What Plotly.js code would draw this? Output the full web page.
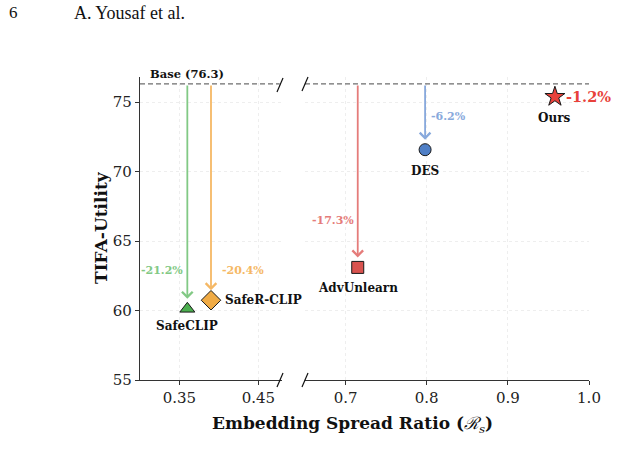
<!DOCTYPE html>
<html>
<head>
<meta charset="utf-8">
<script src="https://cdn.plot.ly/plotly-3.0.1.min.js"></script>
<style>
  html, body { margin: 0; padding: 0; background: #ffffff; }
  #chart { width: 619px; height: 460px; }
</style>
</head>
<body>
<div id="chart"></div>
<script>
// Utility vs. embedding spread for each unlearning method
const methods   = ['SafeCLIP', 'SafeR-CLIP', 'AdvUnlearn', 'DES', 'Ours'];
const spread    = [0.36, 0.39, 0.715, 0.798, 0.958];
const tifa      = [60.12, 60.74, 63.10, 71.57, 75.38];
const dropLabel = ['-21.2%', '-20.4%', '-17.3%', '-6.2%', '-1.2%'];
const baseValue = 76.3;

const leftTicks  = [0.35, 0.45];
const rightTicks = [0.7, 0.8, 0.9, 1.0];
const rightTickText = ['0.7', '0.8', '0.9', '1.0'];
const yTicks = [55, 60, 65, 70, 75];

// styling per method
const style = [
  {xa: 'x',  symbol: 'triangle-up', size: 13, color: '#4caf50', arrow: '#82c985', labelPos: 'below', dropSide: 'left',  dropY: 62.85, dropSize: 11},
  {xa: 'x',  symbol: 'diamond',     size: 15, color: '#f0ab45', arrow: '#f5b865', labelPos: 'right', dropSide: 'right', dropY: 62.85, dropSize: 11},
  {xa: 'x2', symbol: 'square',      size: 12, color: '#d9534f', arrow: '#e57c7a', labelPos: 'below', dropSide: 'left',  dropY: 66.45, dropSize: 11},
  {xa: 'x2', symbol: 'circle',      size: 12, color: '#4f7fc6', arrow: '#88a9dc', labelPos: 'below', dropSide: 'right', dropY: 73.95, dropSize: 11},
  {xa: 'x2', symbol: 'star',        size: 15, color: '#e8413a', arrow: null,      labelPos: 'below', dropSide: 'right', dropY: null,  dropSize: 14.5}
];

const serif = 'DejaVu Serif, serif';

const traces = methods.map((m, i) => ({
  type: 'scatter',
  mode: 'markers',
  name: m,
  x: [spread[i]],
  y: [tifa[i]],
  xaxis: style[i].xa,
  yaxis: 'y',
  marker: {
    symbol: style[i].symbol,
    size: style[i].size,
    color: style[i].color,
    line: {color: '#1a1a1a', width: 1}
  },
  showlegend: false,
  hoverinfo: 'x+y+name'
}));

const annotations = [];
const arrowGap = 0.72;   // how far above the marker the arrow stops (data units)

methods.forEach((m, i) => {
  const s = style[i];
  // method name
  if (s.labelPos === 'below') {
    annotations.push({
      xref: s.xa, yref: 'y', x: spread[i], y: tifa[i],
      text: '<b>' + m + '</b>', showarrow: false,
      xanchor: 'center', yanchor: 'middle', yshift: i === 0 ? -17 : -21,
      font: {family: serif, size: 12, color: '#111'}
    });
  } else {
    annotations.push({
      xref: s.xa, yref: 'y', x: spread[i], y: tifa[i],
      text: '<b>' + m + '</b>', showarrow: false,
      xanchor: 'left', yanchor: 'middle', xshift: 12,
      font: {family: serif, size: 12, color: '#111'}
    });
  }
  // drop arrow from the base level
  if (s.arrow) {
    annotations.push({
      xref: s.xa, yref: 'y', axref: s.xa, ayref: 'y',
      x: spread[i], y: tifa[i] + arrowGap,
      ax: spread[i], ay: baseValue,
      text: '', showarrow: true,
      arrowhead: 4, arrowsize: 1.15, arrowwidth: 1.8, arrowcolor: s.arrow,
      standoff: 0, startstandoff: 0
    });
  }
  // percentage drop
  const dy = s.dropY === null ? tifa[i] : s.dropY;
  annotations.push({
    xref: s.xa, yref: 'y', x: spread[i], y: dy,
    text: '<b>' + dropLabel[i] + '</b>', showarrow: false,
    xanchor: s.dropSide === 'left' ? 'right' : 'left',
    yanchor: 'middle',
    xshift: s.dropSide === 'left' ? -2 : (s.dropY === null ? 9 : (i === 1 ? 9 : 4)),
    font: {family: serif, size: s.dropSize, color: s.arrow || s.color}
  });
});

// base label
annotations.push({
  xref: 'paper', yref: 'y', x: 148 / 619, y: baseValue,
  text: '<b>Base (76.3)</b>', showarrow: false,
  xanchor: 'left', yanchor: 'bottom', yshift: 1,
  font: {family: serif, size: 11.5, color: '#111'}
});

// axis titles
annotations.push({
  xref: 'paper', yref: 'paper', x: 352 / 619, y: 1 - 424 / 460,
  text: '<b>Embedding Spread Ratio (</b><i>ℛ</i><sub><i>s</i></sub><b>)</b>', showarrow: false,
  xanchor: 'center', yanchor: 'middle',
  font: {family: serif, size: 17, color: '#111'}
});
annotations.push({
  xref: 'paper', yref: 'paper', x: 101 / 619, y: 1 - 228 / 460,
  text: '<b>TIFA-Utility</b>', showarrow: false, textangle: -90,
  xanchor: 'center', yanchor: 'middle',
  font: {family: serif, size: 17, color: '#111'}
});

// running page header
annotations.push({
  xref: 'paper', yref: 'paper', x: 7 / 619, y: 1 - 13 / 460,
  text: '6', showarrow: false, xanchor: 'left', yanchor: 'middle',
  font: {family: 'Liberation Serif, serif', size: 17, color: '#111'}
});
annotations.push({
  xref: 'paper', yref: 'paper', x: 72 / 619, y: 1 - 13 / 460,
  text: 'A. Yousaf et al.', showarrow: false, xanchor: 'left', yanchor: 'middle',
  font: {family: 'Liberation Serif, serif', size: 18, color: '#111'}
});

// dashed base line and axis-break marks
const shapes = [
  {type: 'line', xref: 'x',  yref: 'y', x0: 0.30, x1: 0.477, y0: baseValue, y1: baseValue,
   line: {color: '#6e6e6e', width: 1.3, dash: '5px,3px'}},
  {type: 'line', xref: 'x2', yref: 'y', x0: 0.65, x1: 1.0, y0: baseValue, y1: baseValue,
   line: {color: '#6e6e6e', width: 1.3, dash: '5px,3px'}}
];
const breaks = [[280, 380], [305, 380], [280, 85], [305, 84]];
breaks.forEach(([cx, cy]) => {
  shapes.push({
    type: 'line', xref: 'paper', yref: 'paper',
    x0: (cx - 3) / 619, x1: (cx + 3) / 619,
    y0: 1 - (cy + 7) / 460, y1: 1 - (cy - 7) / 460,
    line: {color: '#111', width: 1.2}
  });
});

const axisCommon = {
  showgrid: true, gridcolor: '#eeeeee', griddash: 'dot', gridwidth: 1,
  zeroline: false, showline: true, linecolor: '#333', linewidth: 1.2,
  ticks: 'outside', ticklen: 4, tickcolor: '#333', tickwidth: 1,
  tickfont: {family: serif, size: 15, color: '#222'},
  automargin: false, fixedrange: true
};

const layout = {
  width: 619, height: 460,
  margin: {l: 0, r: 0, t: 0, b: 0},
  paper_bgcolor: '#ffffff', plot_bgcolor: '#ffffff',
  showlegend: false,
  xaxis: Object.assign({}, axisCommon, {
    domain: [140 / 619, 282 / 619], range: [0.30, 0.48],
    tickmode: 'array', tickvals: leftTicks, ticktext: ['0.35', '0.45'], anchor: 'y'
  }),
  xaxis2: Object.assign({}, axisCommon, {
    domain: [305 / 619, 589 / 619], range: [0.65, 1.0],
    tickmode: 'array', tickvals: rightTicks, ticktext: rightTickText, anchor: 'y'
  }),
  yaxis: Object.assign({}, axisCommon, {
    domain: [1 - 380 / 460, 1 - 77 / 460], range: [55, 76.8],
    tickmode: 'array', tickvals: yTicks, anchor: 'x'
  }),
  annotations: annotations,
  shapes: shapes
};

Plotly.newPlot('chart', traces, layout, {staticPlot: true, displayModeBar: false});
</script>
</body>
</html>
